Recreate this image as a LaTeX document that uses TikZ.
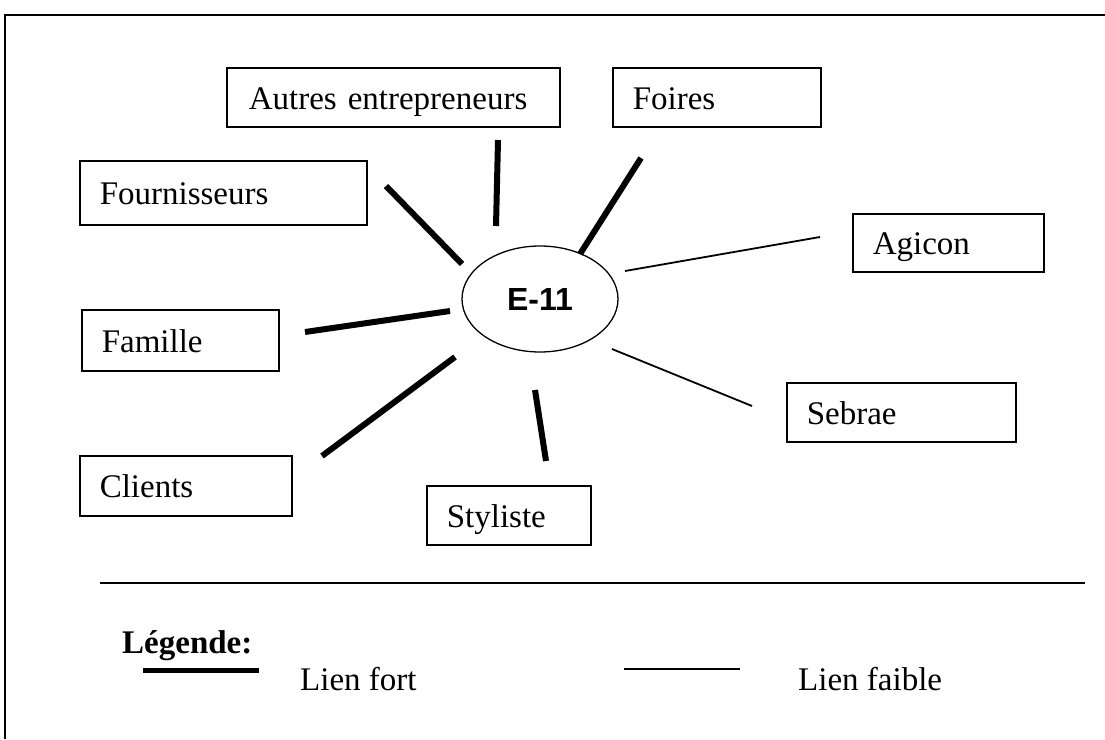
\documentclass[tikz,border=0pt]{standalone}
\usepackage{fontspec}
\setmainfont{Liberation Serif}
\setsansfont{Liberation Sans}
\usetikzlibrary{shapes.geometric}

\tikzset{
  txt/.style={font=\fontsize{33}{40}\selectfont},
  box/.style={draw, line width=1.6pt, rectangle, anchor=north west,
    inner xsep=20pt, inner ysep=0pt, text height=26pt, text depth=2pt,
    align=left, txt},
  strong/.style={line width=6pt},
  weak/.style={line width=1.8pt},
  frame/.style={line width=1.6pt},
  label/.style={anchor=base west, inner sep=0pt, txt}
}

\begin{document}
\begin{tikzpicture}[x=1pt,y=-1pt]
  \useasboundingbox (0,0) rectangle (1105,739);

  % outer frame (top and left edges only)
  \draw[frame] (5,739) -- (5,15) -- (1105,15);

  % actor boxes
  \node[box, minimum width=333pt, minimum height=59pt, text width=289pt, inner xsep=22pt] (autres) at (226,67) {Autres entrepreneurs};
  \node[box, minimum width=208pt, minimum height=59pt, text width=168pt] (foires) at (612,67) {Foires};
  \node[box, minimum width=287pt, minimum height=64pt, text width=247pt] (fourn) at (79,160) {Fournisseurs};
  \node[box, minimum width=191pt, minimum height=58pt, text width=151pt] (agicon) at (852,213) {Agicon};
  \node[box, minimum width=197pt, minimum height=61pt, text width=157pt] (famille) at (81,309) {Famille};
  \node[box, minimum width=229pt, minimum height=59pt, text width=189pt] (sebrae) at (786,382) {Sebrae};
  \node[box, minimum width=212pt, minimum height=60pt, text width=172pt] (clients) at (79,455) {Clients};
  \node[box, minimum width=164pt, minimum height=59pt, text width=124pt] (styliste) at (426,485) {Styliste};

  % central enterprise
  \node[ellipse, draw, line width=1.3pt, minimum width=156pt, minimum height=106pt,
        inner sep=0pt, font=\sffamily\bfseries\fontsize{32}{38}\selectfont] (e11) at (540,299) {E-11};

  % link end points
  \coordinate (autres-l) at (498,140);  \coordinate (e11-autres) at (496,226);
  \coordinate (foires-l) at (641,158);  \coordinate (e11-foires) at (580,254);
  \coordinate (fourn-l) at (386,186);   \coordinate (e11-fourn) at (462,264);
  \coordinate (famille-l) at (305,332); \coordinate (e11-famille) at (450,311);
  \coordinate (clients-l) at (322,456); \coordinate (e11-clients) at (455,357);
  \coordinate (styliste-l) at (546,461);\coordinate (e11-styliste) at (535,390);
  \coordinate (agicon-l) at (820,237);  \coordinate (e11-agicon) at (625,271);
  \coordinate (sebrae-l) at (752,406);  \coordinate (e11-sebrae) at (612,349);

  % strong links
  \draw[strong] (autres-l) -- (e11-autres);
  \draw[strong] (foires-l) -- (e11-foires);
  \draw[strong] (fourn-l) -- (e11-fourn);
  \draw[strong] (famille-l) -- (e11-famille);
  \draw[strong] (clients-l) -- (e11-clients);
  \draw[strong] (styliste-l) -- (e11-styliste);
  % weak links
  \draw[weak] (e11-agicon) -- (agicon-l);
  \draw[weak] (e11-sebrae) -- (sebrae-l);

  % legend
  \coordinate (sep-a) at (100,583); \coordinate (sep-b) at (1085,583);
  \draw[frame] (sep-a) -- (sep-b);
  \node[label, font=\bfseries\fontsize{33}{40}\selectfont] (legende) at (122,653) {Légende:};
  \coordinate (fort-a) at (143,670); \coordinate (fort-b) at (259,670);
  \draw[line width=5pt] (fort-a) -- (fort-b);
  \node[label] (fort) at (300,690) {Lien fort};
  \coordinate (faible-a) at (624,669); \coordinate (faible-b) at (740,669);
  \draw[weak] (faible-a) -- (faible-b);
  \node[label] (faible) at (798,690) {Lien faible};
\end{tikzpicture}
\end{document}
